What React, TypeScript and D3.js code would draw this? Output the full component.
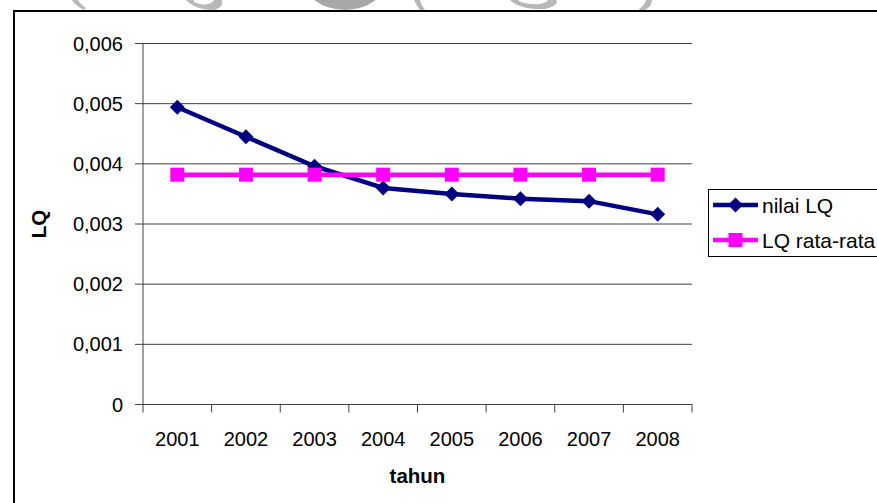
import React from "react";
import * as d3 from "d3";

const years = ["2001", "2002", "2003", "2004", "2005", "2006", "2007", "2008"];
const nilaiLQ = [0.00494, 0.00445, 0.00396, 0.0036, 0.0035, 0.00342, 0.00338, 0.00316];
const lqRataRata = [0.00382, 0.00382, 0.00382, 0.00382, 0.00382, 0.00382, 0.00382, 0.00382];
const yTickValues = [0, 0.001, 0.002, 0.003, 0.004, 0.005, 0.006];
const yTickLabels = ["0", "0,001", "0,002", "0,003", "0,004", "0,005", "0,006"];
const seriesNames = ["nilai LQ", "LQ rata-rata"];

const W = 877;
const H = 503;
const FONT = "'Liberation Sans', Arial, sans-serif";
const FS = 20;

export default function App() {
  const x = d3.scaleBand<string>().domain(years).range([143, 692]).padding(0);
  const y = d3.scaleLinear().domain([0, 0.006]).range([404.5, 43.5]);
  const cx = (yr: string) => (x(yr) as number) + x.bandwidth() / 2;

  const line = d3
    .line<number>()
    .x((_, i) => cx(years[i]))
    .y((d) => y(d));

  const diamond = "M0,-7.5L7.5,0L0,7.5L-7.5,0Z";
  const square = "M-7,-7H7V7H-7Z";
  const navy = "#000080";
  const pink = "#FF00FF";
  const gridColor = "#404040";

  const boundaries = [...years.map((yr) => x(yr) as number), 692];

  return (
    <svg
      width={W}
      height={H}
      style={{ position: "absolute", left: 0, top: 0, background: "#fff" }}
      fontFamily={FONT}
    >
      {/* faint watermark remnants above the frame */}
      <g fill="#b8b8b8" stroke="none">
        <path d="M72,0 Q76,6 84,10 L86,8 Q80,4 78,0Z" />
        <path d="M186,0 Q195,10 215,10 Q224,6 222,0 L214,0 Q210,6 200,4 Q192,2 194,0Z" />
        <ellipse cx={345} cy={-22} rx={42} ry={32} fill="#a8a8a8" />
        <path d="M414,0 Q417,6 420,10 L425,10 Q421,5 420,0Z" />
        <path d="M510,0 Q520,10 545,9 Q560,5 556,0 L548,0 Q545,5 532,4 Q520,3 518,0Z" />
        <path d="M638,10 Q645,5 646,0 L652,0 Q652,6 645,10Z" />
      </g>

      {/* chart frame */}
      <rect x={14} y={11} width={W + 20} height={H + 20} fill="#fff" stroke="#000" strokeWidth={2} />

      {/* gridlines */}
      {yTickValues.slice(1).map((v) => (
        <line key={"g" + v} x1={143} x2={692} y1={y(v)} y2={y(v)} stroke={gridColor} strokeWidth={1} />
      ))}

      {/* y axis */}
      <line x1={143} x2={143} y1={y(0.006)} y2={y(0) + 0.5} stroke={gridColor} strokeWidth={1} />
      {yTickValues.map((v, i) => (
        <g key={"yt" + v}>
          <line x1={135} x2={143} y1={y(v)} y2={y(v)} stroke={gridColor} strokeWidth={1} />
          <text x={123} y={y(v)} dy="0.35em" textAnchor="end" fontSize={FS} fill="#000">
            {yTickLabels[i]}
          </text>
        </g>
      ))}

      {/* x axis */}
      <line x1={143} x2={692} y1={y(0)} y2={y(0)} stroke={gridColor} strokeWidth={1} />
      {boundaries.map((b, i) => (
        <line key={"xt" + i} x1={b} x2={b} y1={y(0)} y2={y(0) + 8} stroke={gridColor} strokeWidth={1} />
      ))}
      {years.map((yr) => (
        <text key={"xl" + yr} x={cx(yr)} y={446} textAnchor="middle" fontSize={FS} fill="#000">
          {yr}
        </text>
      ))}

      {/* axis titles */}
      <text x={417.5} y={483} textAnchor="middle" fontSize={20.5} fontWeight="bold" fill="#000">
        tahun
      </text>
      <text
        transform={`translate(46,${(y(0) + y(0.006)) / 2}) rotate(-90)`}
        textAnchor="middle"
        fontSize={20.5}
        fontWeight="bold"
        fill="#000"
      >
        LQ
      </text>

      {/* series: nilai LQ */}
      <path d={line(nilaiLQ) || ""} fill="none" stroke={navy} strokeWidth={4.5} strokeLinejoin="round" />
      {nilaiLQ.map((v, i) => (
        <path key={"d" + i} d={diamond} transform={`translate(${cx(years[i])},${y(v)})`} fill={navy} />
      ))}

      {/* series: LQ rata-rata */}
      <path d={line(lqRataRata) || ""} fill="none" stroke={pink} strokeWidth={4.5} />
      {lqRataRata.map((v, i) => (
        <path key={"s" + i} d={square} transform={`translate(${cx(years[i])},${y(v)})`} fill={pink} />
      ))}

      {/* legend */}
      <g>
        <rect x={708.5} y={189.5} width={200} height={67} fill="#fff" stroke="#000" strokeWidth={1} />
        {[navy, pink].map((c, i) => {
          const ly = 205 + i * 35;
          return (
            <g key={"lg" + i}>
              <line x1={713} x2={758} y1={ly} y2={ly} stroke={c} strokeWidth={4.5} />
              <path d={i === 0 ? diamond : square} transform={`translate(735.5,${ly})`} fill={c} />
              <text x={762} y={ly} dy="0.36em" fontSize={21} fill="#000">
                {seriesNames[i]}
              </text>
            </g>
          );
        })}
      </g>
    </svg>
  );
}
